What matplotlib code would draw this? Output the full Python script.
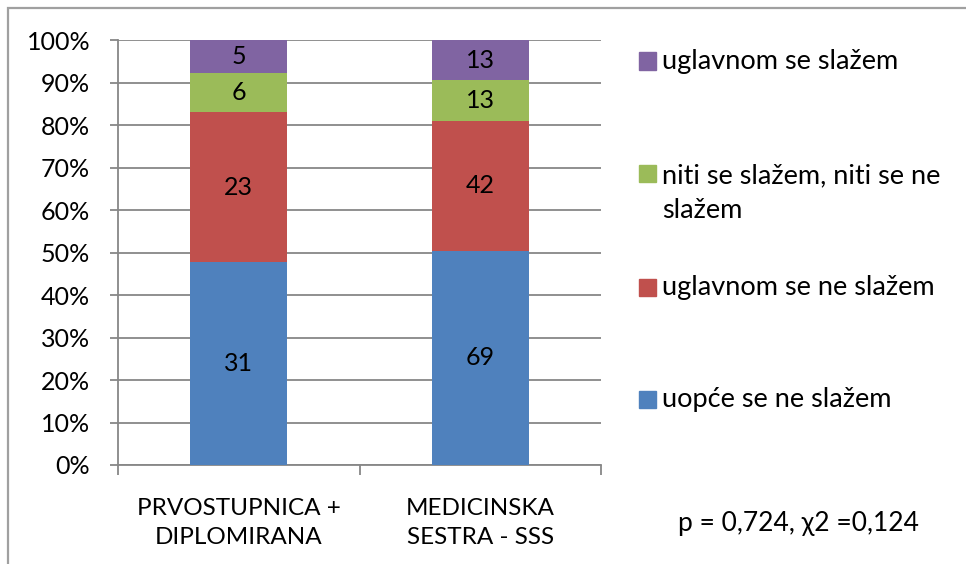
import matplotlib.pyplot as plt
from matplotlib.patches import Rectangle
import numpy as np

plt.rcParams['font.family'] = ['Lato', 'DejaVu Sans']

groups = ['PRVOSTUPNICA +\nDIPLOMIRANA', 'MEDICINSKA\nSESTRA - SSS']
series = ['uopće se ne slažem', 'uglavnom se ne slažem',
          'niti se slažem, niti se ne\nslažem', 'uglavnom se slažem']
counts = np.array([[31, 69],
                   [23, 42],
                   [6, 13],
                   [5, 13]])
colors = ['#4F81BD', '#C0504D', '#9BBB59', '#8064A2']
stat_text = 'p = 0,724, χ2 =0,124'

W, H = 966, 564
fig = plt.figure(figsize=(W / 100, H / 100), dpi=100)
ax = fig.add_axes([118 / W, 1 - 465 / H, 483 / W, 425 / H])

grid_c = '#878787'
x = np.arange(len(groups))
pct = counts / counts.sum(axis=0) * 100
bottom = np.zeros(len(groups))
for i in range(len(series)):
    ax.bar(x, pct[i], 0.4, bottom=bottom, color=colors[i], zorder=3)
    for j in range(len(groups)):
        ax.text(x[j], bottom[j] + pct[i][j] / 2, str(counts[i][j]),
                ha='center', va='center', fontsize=18, zorder=4)
    bottom += pct[i]

ax.set_xlim(-0.5, 1.5)
ax.set_ylim(0, 100)
ax.set_yticks(np.arange(0, 101, 10))
ax.set_yticklabels([f'{v}%' for v in range(0, 101, 10)])
ax.yaxis.grid(True, color=grid_c, linewidth=1.3, zorder=0)
ax.set_xticks([-0.5, 0.5, 1.5])
ax.set_xticklabels([])
ax.set_xticks(x, minor=True)
ax.set_xticklabels(groups, minor=True, linespacing=1.45)
ax.tick_params(axis='x', which='minor', length=0, pad=24, labelsize=17.5)
ax.tick_params(axis='x', which='major', length=7, width=1.3, color=grid_c)
ax.tick_params(axis='y', length=6, width=1.3, color=grid_c, pad=14, labelsize=18)
for s in ['top', 'right']:
    ax.spines[s].set_visible(False)
for s in ['left', 'bottom']:
    ax.spines[s].set_color(grid_c)
    ax.spines[s].set_linewidth(1.3)

# legend, top entry first: (square centre, text centre)
leg_y = [(61, 61), (173, 193), (287, 287), (399, 399)]
for k, i in enumerate(range(len(series) - 1, -1, -1)):
    ys, yt = leg_y[k]
    fig.patches.append(Rectangle((639 / W, 1 - (ys + 8.5) / H), 17 / W, 17 / H,
                                 transform=fig.transFigure, color=colors[i]))
    fig.text(662 / W, 1 - yt / H, series[i], ha='left', va='center',
             fontsize=19.5, linespacing=1.45)

fig.text(799 / W, 1 - 523 / H, stat_text, ha='center', va='center', fontsize=19)

# chart frame
fig.patches.append(Rectangle((8 / W, -0.1), 1.2, 1 - 8 / H + 0.1, transform=fig.transFigure,
                             fill=False, edgecolor='#a0a0a0', linewidth=1.6))

fig.savefig('out.png', dpi=100)
